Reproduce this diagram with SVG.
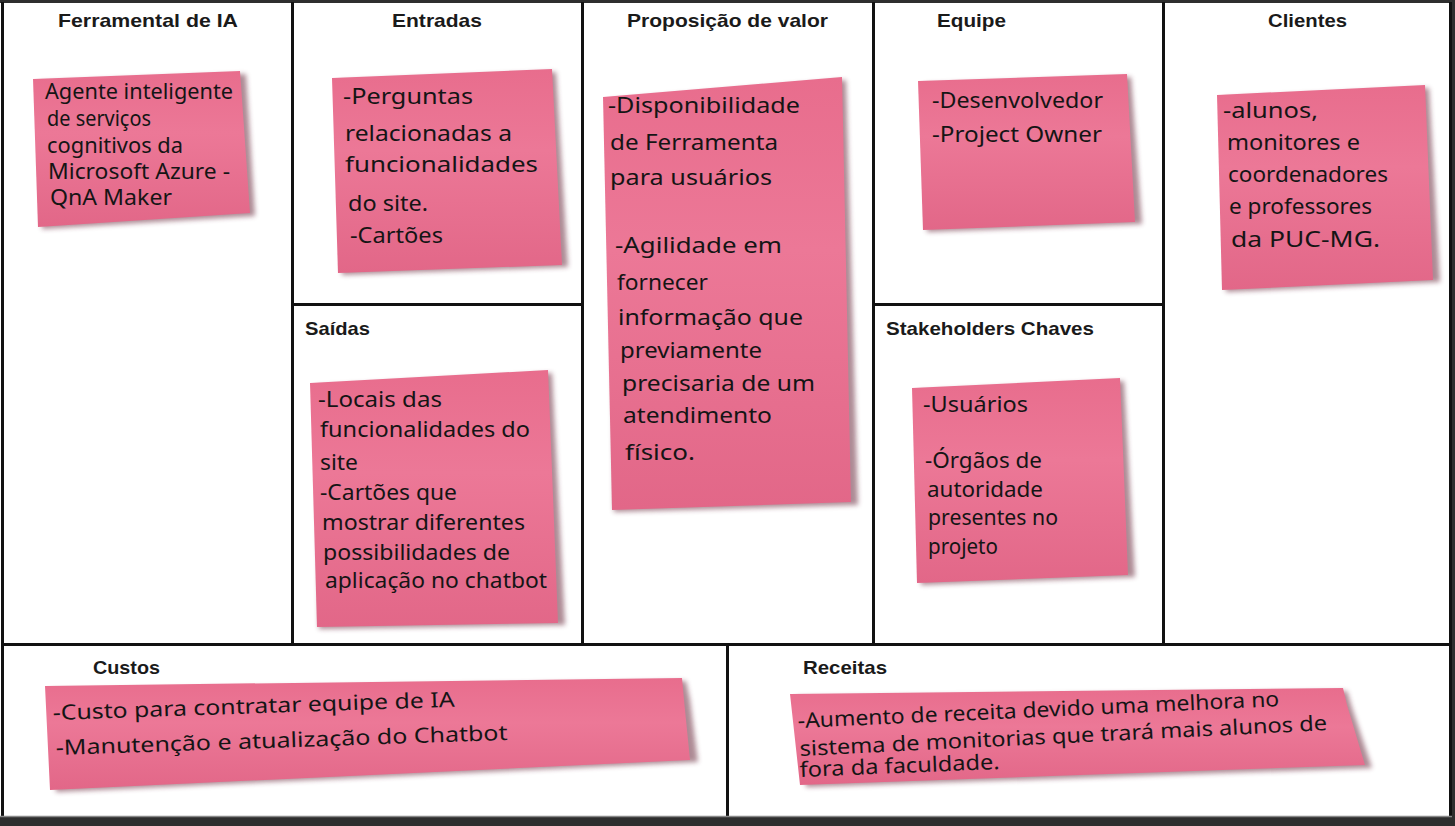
<svg xmlns="http://www.w3.org/2000/svg" width="1455" height="826" viewBox="0 0 1455 826">
<defs>
<linearGradient id="pink" x1="0" y1="0" x2="0" y2="1">
<stop offset="0" stop-color="#e86d8d"/>
<stop offset="0.4" stop-color="#ec7897"/>
<stop offset="1" stop-color="#e26788"/>
</linearGradient>
<filter id="blur" x="-10%" y="-10%" width="120%" height="120%"><feGaussianBlur stdDeviation="2.5"/></filter>
<style>
.line{stroke:#111;stroke-width:3;fill:none}
.title{font-family:"Liberation Sans",Arial,sans-serif;font-weight:bold;font-size:19px;fill:#1a1a1a}
.note{fill:url(#pink)}
.shadow{fill:#6b2a3c;opacity:0.55;filter:url(#blur)}
.hw{font-family:"Noto Sans","DejaVu Sans",sans-serif;font-size:21px;fill:#151515}
</style>
</defs>
<rect x="0" y="0" width="1455" height="826" fill="#2e2e2e"/>
<rect x="0" y="3" width="1451" height="814" fill="#ffffff"/>

<g id="grid">
<line class="line" x1="2.5" y1="2" x2="2.5" y2="817"/>
<line class="line" x1="292.5" y1="2" x2="292.5" y2="644"/>
<line class="line" x1="582.5" y1="2" x2="582.5" y2="644"/>
<line class="line" x1="873.5" y1="2" x2="873.5" y2="644"/>
<line class="line" x1="1163.5" y1="2" x2="1163.5" y2="644"/>
<line class="line" x1="1450.5" y1="2" x2="1450.5" y2="817"/>
<line class="line" x1="292" y1="304.5" x2="583" y2="304.5"/>
<line class="line" x1="873" y1="304.5" x2="1164" y2="304.5"/>
<line class="line" x1="1" y1="644.5" x2="1452" y2="644.5"/>
<line class="line" x1="727.5" y1="644" x2="727.5" y2="817"/>
<line x1="0" y1="816.5" x2="1452" y2="816.5" stroke="#888" stroke-width="1.5"/>
</g>

<g id="ferramental">
<text class="title" x="58" y="27" textLength="180" lengthAdjust="spacingAndGlyphs">Ferramental de IA</text>
<polygon class="shadow" points="40,82 246,74 255,216 42,229"/>
<polygon class="note" points="33,79 240,71 250,213 38,227"/>
<g class="hw" font-size="18">
<text x="45" y="99" textLength="188" lengthAdjust="spacingAndGlyphs">Agente inteligente</text>
<text x="47" y="126" textLength="104" lengthAdjust="spacingAndGlyphs">de serviços</text>
<text x="47" y="153" textLength="136" lengthAdjust="spacingAndGlyphs">cognitivos da</text>
<text x="48" y="179" textLength="182" lengthAdjust="spacingAndGlyphs">Microsoft Azure -</text>
<text x="50" y="205" textLength="122" lengthAdjust="spacingAndGlyphs">QnA Maker</text>
</g>
</g>

<g id="entradas">
<text class="title" x="392" y="27" textLength="90" lengthAdjust="spacingAndGlyphs">Entradas</text>
<polygon class="shadow" points="340,81 556,72 568,267 342,275"/>
<polygon class="note" points="332,78 552,69 562,265 338,273"/>
<g class="hw" font-size="22">
<text x="343" y="104" textLength="130" lengthAdjust="spacingAndGlyphs">-Perguntas</text>
<text x="345" y="141" textLength="167" lengthAdjust="spacingAndGlyphs">relacionadas a</text>
<text x="345" y="172" textLength="193" lengthAdjust="spacingAndGlyphs">funcionalidades</text>
<text x="348" y="211" textLength="80" lengthAdjust="spacingAndGlyphs">do site.</text>
<text x="350" y="243" textLength="93" lengthAdjust="spacingAndGlyphs">-Cartões</text>
</g>
</g>

<g id="proposicao">
<text class="title" x="627" y="27" textLength="201" lengthAdjust="spacingAndGlyphs">Proposição de valor</text>
<polygon class="shadow" points="610,100 846,80 858,505 614,512"/>
<polygon class="note" points="603,97 842,77 851,502 612,510"/>
<g class="hw" font-size="22">
<text x="608" y="113" textLength="192" lengthAdjust="spacingAndGlyphs">-Disponibilidade</text>
<text x="610" y="150" textLength="168" lengthAdjust="spacingAndGlyphs">de Ferramenta</text>
<text x="610" y="185" textLength="162" lengthAdjust="spacingAndGlyphs">para usuários</text>
<text x="615" y="253" textLength="167" lengthAdjust="spacingAndGlyphs">-Agilidade em</text>
<text x="617" y="290" textLength="91" lengthAdjust="spacingAndGlyphs">fornecer</text>
<text x="618" y="325" textLength="185" lengthAdjust="spacingAndGlyphs">informação que</text>
<text x="620" y="358" textLength="142" lengthAdjust="spacingAndGlyphs">previamente</text>
<text x="622" y="391" textLength="193" lengthAdjust="spacingAndGlyphs">precisaria de um</text>
<text x="623" y="423" textLength="149" lengthAdjust="spacingAndGlyphs">atendimento</text>
<text x="625" y="460" textLength="70" lengthAdjust="spacingAndGlyphs">físico.</text>
</g>
</g>

<g id="equipe">
<text class="title" x="937" y="27" textLength="69" lengthAdjust="spacingAndGlyphs">Equipe</text>
<polygon class="shadow" points="925,84 1131,77 1142,224 927,232"/>
<polygon class="note" points="918,81 1127,74 1135,222 923,230"/>
<g class="hw" font-size="21">
<text x="932" y="108" textLength="171" lengthAdjust="spacingAndGlyphs">-Desenvolvedor</text>
<text x="932" y="142" textLength="170" lengthAdjust="spacingAndGlyphs">-Project Owner</text>
</g>
</g>

<g id="clientes">
<text class="title" x="1268" y="27" textLength="79" lengthAdjust="spacingAndGlyphs">Clientes</text>
<polygon class="shadow" points="1224,98 1429,88 1440,282 1226,292"/>
<polygon class="note" points="1217,95 1425,85 1433,280 1222,290"/>
<g class="hw" font-size="21">
<text x="1223" y="118" textLength="95" lengthAdjust="spacingAndGlyphs">-alunos,</text>
<text x="1227" y="150" textLength="133" lengthAdjust="spacingAndGlyphs">monitores e</text>
<text x="1228" y="182" textLength="160" lengthAdjust="spacingAndGlyphs">coordenadores</text>
<text x="1229" y="214" textLength="143" lengthAdjust="spacingAndGlyphs">e professores</text>
<text x="1231" y="247" textLength="149" lengthAdjust="spacingAndGlyphs">da PUC-MG.</text>
</g>
</g>

<g id="saidas">
<text class="title" x="305" y="335" textLength="65" lengthAdjust="spacingAndGlyphs">Saídas</text>
<polygon class="shadow" points="317,386 552,373 565,625 319,629"/>
<polygon class="note" points="310,383 548,370 558,623 317,627"/>
<g class="hw" font-size="20">
<text x="318" y="407" textLength="124" lengthAdjust="spacingAndGlyphs">-Locais das</text>
<text x="320" y="437" textLength="210" lengthAdjust="spacingAndGlyphs">funcionalidades do</text>
<text x="320" y="470" textLength="38" lengthAdjust="spacingAndGlyphs">site</text>
<text x="320" y="500" textLength="137" lengthAdjust="spacingAndGlyphs">-Cartões que</text>
<text x="322" y="530" textLength="203" lengthAdjust="spacingAndGlyphs">mostrar diferentes</text>
<text x="323" y="560" textLength="187" lengthAdjust="spacingAndGlyphs">possibilidades de</text>
<text x="325" y="588" textLength="222" lengthAdjust="spacingAndGlyphs">aplicação no chatbot</text>
</g>
</g>

<g id="stakeholders">
<text class="title" x="886" y="335" textLength="208" lengthAdjust="spacingAndGlyphs">Stakeholders Chaves</text>
<polygon class="shadow" points="919,391 1124,381 1135,577 921,585"/>
<polygon class="note" points="912,388 1120,378 1128,575 917,583"/>
<g class="hw" font-size="20">
<text x="923" y="412" textLength="105" lengthAdjust="spacingAndGlyphs">-Usuários</text>
<text x="925" y="468" textLength="117" lengthAdjust="spacingAndGlyphs">-Órgãos de</text>
<text x="927" y="497" textLength="116" lengthAdjust="spacingAndGlyphs">autoridade</text>
<text x="928" y="525" textLength="130" lengthAdjust="spacingAndGlyphs">presentes no</text>
<text x="928" y="554" textLength="70" lengthAdjust="spacingAndGlyphs">projeto</text>
</g>
</g>

<g id="custos">
<text class="title" x="93" y="674" textLength="67" lengthAdjust="spacingAndGlyphs">Custos</text>
<polygon class="shadow" points="52,690 686,681 690,700 698,762 56,792"/>
<polygon class="note" points="45,686 682,678 684,700 690,760 50,790"/>
<g class="hw" font-size="21">
<text transform="translate(53,720) rotate(-1.9)" textLength="402" lengthAdjust="spacingAndGlyphs">-Custo para contratar equipe de IA</text>
<text transform="translate(56,755) rotate(-1.9)" textLength="452" lengthAdjust="spacingAndGlyphs">-Manutenção e atualização do Chatbot</text>
</g>
</g>

<g id="receitas">
<text class="title" x="803" y="674" textLength="84" lengthAdjust="spacingAndGlyphs">Receitas</text>
<polygon class="shadow" points="797,697 1347,691 1352,708 1372,768 806,787"/>
<polygon class="note" points="790,694 1343,688 1347,705 1365,765 800,785"/>
<g class="hw" font-size="20">
<text transform="translate(798,728) rotate(-2.6)" textLength="482" lengthAdjust="spacingAndGlyphs">-Aumento de receita devido uma melhora no</text>
<text transform="translate(800,756) rotate(-2.8)" textLength="528" lengthAdjust="spacingAndGlyphs">sistema de monitorias que trará mais alunos de</text>
<text transform="translate(800,777) rotate(-2.3)" textLength="200" lengthAdjust="spacingAndGlyphs">fora da faculdade.</text>
</g>
</g>
</svg>
